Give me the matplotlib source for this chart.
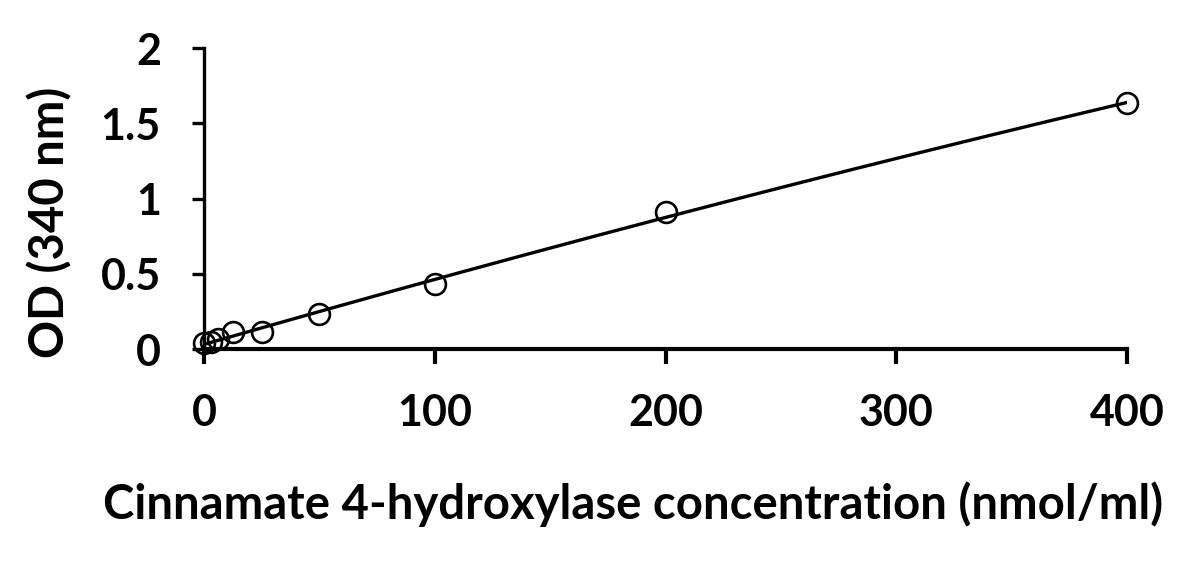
"""standard curve: OD (340 nm) against Cinnamate 4-hydroxylase concentration"""
import numpy as np
import matplotlib
matplotlib.use('Agg')
import matplotlib.pyplot as plt

# standards
conc = [0, 3.125, 6.25, 12.5, 25, 50, 100, 200, 400]
od = [0.038, 0.049, 0.066, 0.115, 0.113, 0.233, 0.430, 0.909, 1.634]

xticks = [0, 100, 200, 300, 400]
yticks = [0, 0.5, 1, 1.5, 2]
yticklabels = ['0', '0.5', '1', '1.5', '2']

plt.rcParams['font.family'] = ['Lato', 'DejaVu Sans']
plt.rcParams['font.weight'] = 'bold'

fig = plt.figure(figsize=(11.88, 5.62), dpi=100)
ax = fig.add_axes([0.1717, 0.379, 0.777, 0.535])

# trend line through the standards
coef = np.polyfit(conc, od, 2)
xs = np.linspace(min(conc), max(conc), 200)
ax.plot(xs, np.polyval(coef, xs), color='black', lw=2.4, zorder=2)
ax.plot(conc, od, 'o', mfc='none', mec='black', ms=15, mew=1.9,
        clip_on=False, zorder=3)

ax.set_xlim(0, 400)
ax.set_ylim(0, 2)
ax.set_xticks(xticks)
ax.set_yticks(yticks)
ax.set_yticklabels(yticklabels)
for s in ['top', 'right']:
    ax.spines[s].set_visible(False)
ax.spines['bottom'].set_linewidth(3.0)
ax.spines['left'].set_linewidth(2.4)
ax.tick_params(axis='x', length=11, width=3.0, pad=21, labelsize=31)
ax.tick_params(axis='y', length=9, width=2.4, pad=22, labelsize=31)

ax.set_xlabel('Cinnamate 4-hydroxylase concentration (nmol/ml)',
              fontsize=34, fontweight='bold')
ax.set_ylabel('OD (340 nm)', fontsize=34, fontweight='bold')
ax.xaxis.set_label_coords(0.465, -0.44)
ax.yaxis.set_label_coords(-0.143, 0.42)

fig.savefig('out.png', dpi=100)
